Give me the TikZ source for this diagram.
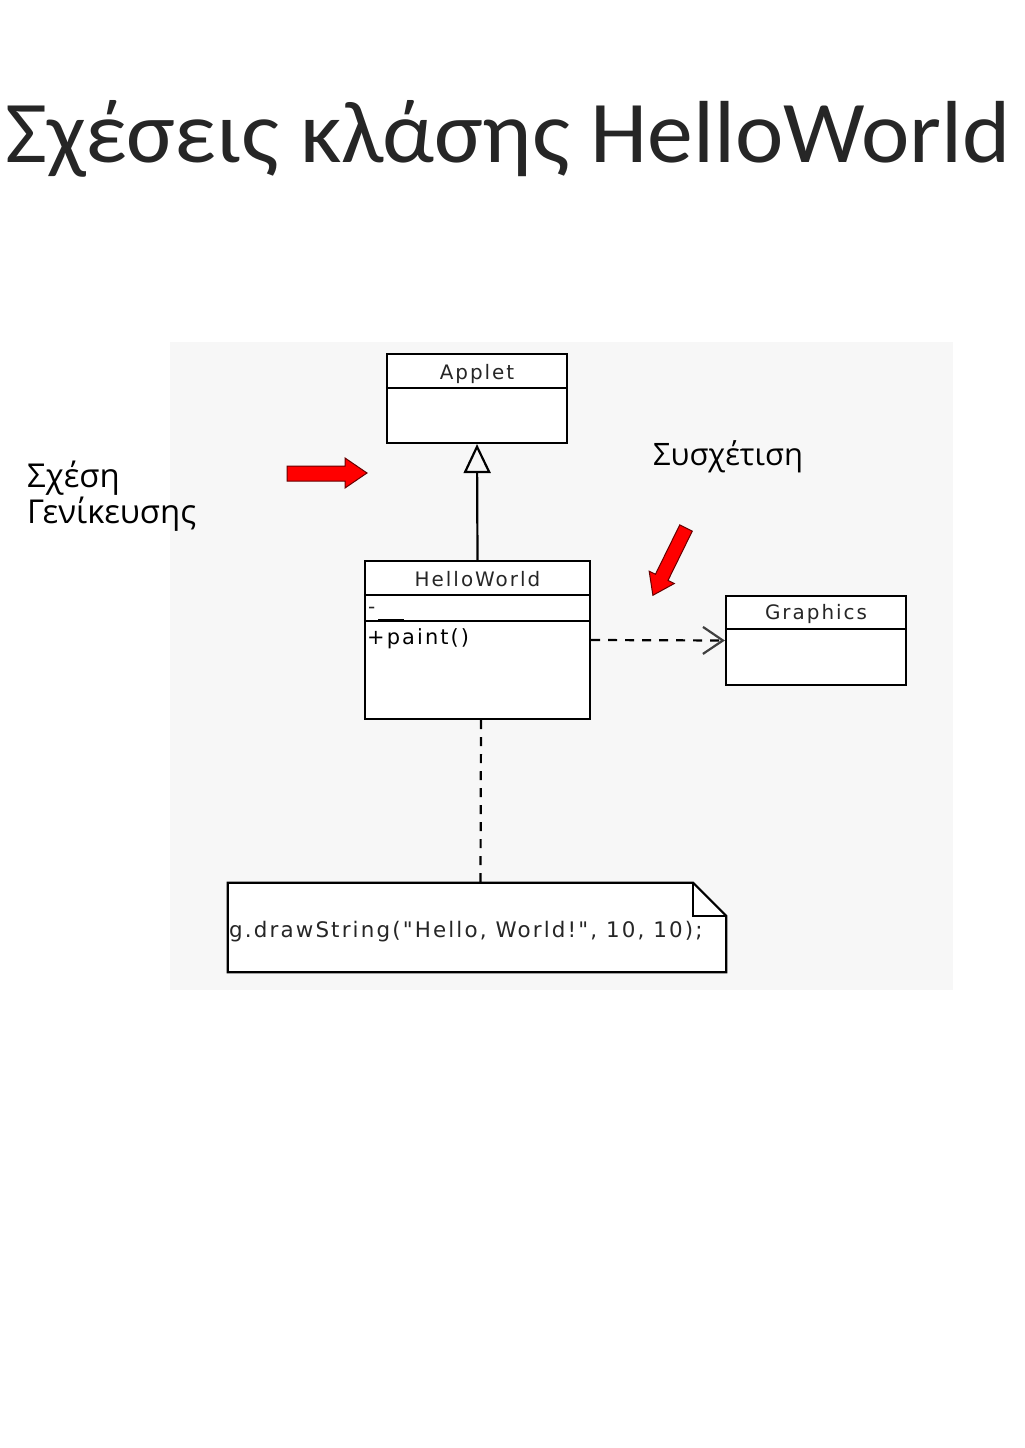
\documentclass[tikz,border=0pt]{standalone}
\usepackage{fontspec}
\setmainfont{Open Sans}
\newfontfamily\umlfont[LetterSpace=10]{DejaVu Sans}
\newfontfamily\titlefont{Carlito}
\usetikzlibrary{arrows.meta,calc}
\definecolor{panelgray}{HTML}{F7F7F7}
\definecolor{arrowred}{HTML}{FF0000}
\tikzset{
  classbox/.style={draw, line width=2.2bp, fill=white, inner sep=0pt},
  classname/.style={font=\umlfont\fontsize{20}{24}\selectfont, text=black!85, anchor=base, inner sep=0pt},
  remark/.style={font=\fontsize{33}{36}\selectfont, anchor=base west, align=left, inner sep=0pt},
  redarrow/.style={fill=arrowred, draw=black!60!red, line width=1bp},
  umlline/.style={line width=2.2bp},
}
\begin{document}
\begin{tikzpicture}[x=1bp, y=-1bp]
  \useasboundingbox (0,0) rectangle (1024,1448);
  \fill[panelgray] (170,342) rectangle (953,990);

  % title
  \node[anchor=base west, inner sep=0pt, text=black!85] (title) at (5,163)
    {\resizebox{1005bp}{62bp}{\titlefont Σχέσεις κλάσης HelloWorld}};

  % classes
  \node[classbox, minimum width=180bp, minimum height=89bp] (applet) at (477,398.5) {};
  \draw[umlline] ($(applet.north west)+(0,35)$) -- ($(applet.north east)+(0,35)$);
  \node[classname] at ($(applet.north)+(0,27)$) {Applet};

  \node[classbox, minimum width=225bp, minimum height=158bp] (hello) at (477.5,640) {};
  \draw[umlline] ($(hello.north west)+(0,35)$) -- ($(hello.north east)+(0,35)$);
  \draw[umlline] ($(hello.north west)+(0,61)$) -- ($(hello.north east)+(0,61)$);
  \node[classname] at ($(hello.north)+(0,27)$) {HelloWorld};
  \node[classname, anchor=base west] at (368,613) {-};
  \draw[line width=2.5bp] (378,620) -- (404,620);
  \node[classname, anchor=base west, text=black, font=\umlfont\fontsize{21}{24}\selectfont] at (367,644) {+paint()};

  \node[classbox, minimum width=180bp, minimum height=89bp] (graphics) at (816,640.5) {};
  \draw[umlline] ($(graphics.north west)+(0,34)$) -- ($(graphics.north east)+(0,34)$);
  \node[classname] at ($(graphics.north)+(0,25)$) {Graphics};

  % note
  \node[minimum width=498bp, minimum height=89bp, inner sep=0pt] (note) at (477,927.5) {};
  \filldraw[umlline, fill=white] (note.north west) -- ($(note.north east)+(-33,0)$)
    -- ($(note.north east)+(0,33)$) -- (note.south east) -- (note.south west) -- cycle;
  \draw[umlline] ($(note.north east)+(-33,0)$) -- ($(note.north east)+(-33,33)$)
    -- ($(note.north east)+(0,33)$);
  \node[classname, anchor=base west, font=\umlfont\fontsize{21.5}{24}\selectfont] (code) at (229,937)
    {g.drawString("Hello, World!", 10, 10);};

  % relations
  \draw[umlline, -{Triangle[open, length=29bp, width=27bp, line width=2.2bp]}] (hello.north) -- (applet.south);
  \draw[umlline, dash pattern=on 9bp off 8bp,
    -{Straight Barb[length=20bp, width=27bp, line width=2.2bp, color=black!75]}] (hello.east) -- (graphics.west);
  \draw[umlline, dash pattern=on 9bp off 8bp] ([xshift=3.5bp]hello.south) -- ([xshift=3.5bp]note.north);

  % red pointers
  \filldraw[redarrow] (287,466) -- (345,466) -- (345,458) -- (367,473)
    -- (345,488) -- (345,481) -- (287,481) -- cycle;
  \begin{scope}[shift={(686,528)}, rotate=-116.2]
    \filldraw[redarrow] (0,-7) -- (55,-7) -- (55,-14) -- (75,0)
      -- (55,14) -- (55,7) -- (0,7) -- cycle;
  \end{scope}

  % remarks
  \node[remark] (generalization) at (27,523) {Σχέση\\Γενίκευσης};
  \node[remark, font=\fontsize{31}{34}\selectfont] (association) at (653,465) {Συσχέτιση};
\end{tikzpicture}
\end{document}
